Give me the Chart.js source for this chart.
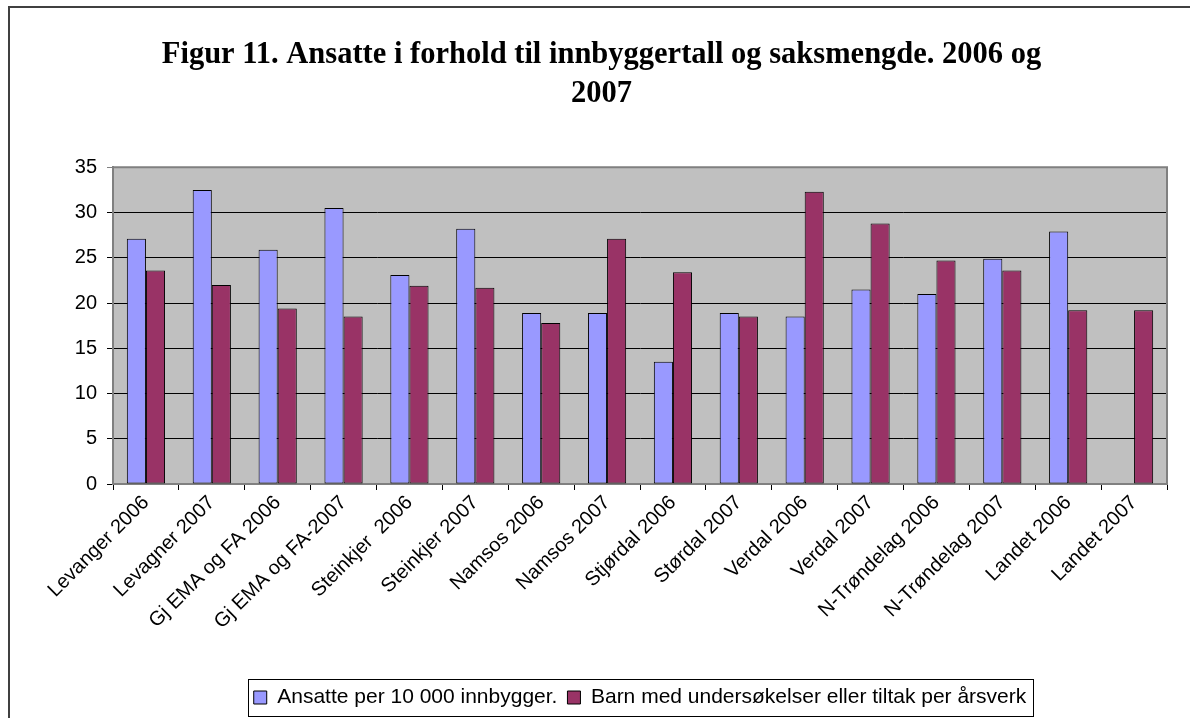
<!DOCTYPE html>
<html>
<head>
<meta charset="utf-8">
<script src="https://cdn.jsdelivr.net/npm/chart.js@4.4.0/dist/chart.umd.min.js"></script>
<style>
  html, body { margin: 0; padding: 0; background: #fff; }
  #wrap { width: 1190px; height: 718px; position: relative; }
</style>
</head>
<body>
<div id="wrap"><canvas id="chart" width="1190" height="718"></canvas></div>
<script>
// chart data
const categories = [
    "Levanger 2006", "Levagner 2007", "Gj EMA og FA 2006", "Gj EMA og FA-2007",
    "Steinkjer  2006", "Steinkjer 2007", "Namsos 2006", "Namsos 2007",
    "Stjørdal 2006", "Størdal 2007", "Verdal 2006", "Verdal 2007",
    "N-Trøndelag 2006", "N-Trøndelag 2007", "Landet 2006", "Landet 2007"
];
const ansatte = [27.1, 32.5, 25.9, 30.5, 23.1, 28.2, 18.9, 18.9, 13.5, 18.9, 18.5, 21.5, 21.0, 24.9, 27.9, null];
const barn    = [23.6, 22.0, 19.4, 18.5, 21.9, 21.7, 17.8, 27.1, 23.4, 18.5, 32.3, 28.8, 24.7, 23.6, 19.2, 19.2];
const seriesNames = ["Ansatte per 10 000 innbygger.", "Barn med undersøkelser eller tiltak per årsverk"];
const titleLines = ["Figur 11. Ansatte i forhold til innbyggertall og saksmengde. 2006 og", "2007"];
const yTicks = [0, 5, 10, 15, 20, 25, 30, 35];

const SANS = "'Liberation Sans', Arial, sans-serif";
const SERIF = "'Liberation Serif', 'Times New Roman', serif";

// plot background, frame, outer border and legend box
const decor = {
    id: "decor",
    beforeDraw(chart) {
        const { ctx, chartArea: a } = chart;
        ctx.save();
        ctx.fillStyle = "#C0C0C0";
        ctx.fillRect(a.left, a.top, a.right - a.left, a.bottom - a.top);
        ctx.restore();
    },
    afterDraw(chart) {
        const { ctx, chartArea: a } = chart;
        ctx.save();
        // plot frame
        ctx.strokeStyle = "#808080";
        ctx.lineWidth = 2;
        ctx.beginPath();
        ctx.moveTo(a.left, a.top);
        ctx.lineTo(a.right, a.top);
        ctx.lineTo(a.right, a.bottom);
        ctx.stroke();
        // outer border
        ctx.strokeStyle = "#404040";
        ctx.lineWidth = 2;
        ctx.beginPath();
        ctx.moveTo(9, 720);
        ctx.lineTo(9, 7);
        ctx.lineTo(1192, 7);
        ctx.stroke();
        // legend box
        const boxes = chart.legend.legendHitBoxes;
        if (boxes && boxes.length) {
            const first = boxes[0], last = boxes[boxes.length - 1];
            const x0 = first.left - 6, x1 = last.left + last.width + 6;
            const y0 = first.top - 8, y1 = first.top + first.height + 8;
            ctx.strokeStyle = "#000";
            ctx.lineWidth = 1;
            ctx.strokeRect(Math.round(x0) + 0.5, Math.round(y0) + 0.5, Math.round(x1 - x0), Math.round(y1 - y0));
        }
        ctx.restore();
    }
};

new Chart(document.getElementById("chart"), {
    type: "bar",
    data: {
        labels: categories,
        datasets: [
            {
                label: seriesNames[0],
                data: ansatte,
                backgroundColor: "#9999FF",
                borderColor: "#000",
                borderWidth: 1
            },
            {
                label: seriesNames[1],
                data: barn,
                backgroundColor: "#993366",
                borderColor: "#000",
                borderWidth: 1
            }
        ]
    },
    options: {
        responsive: false,
        animation: false,
        events: [],
        layout: { padding: { left: 36, right: 23, top: 0, bottom: 0 } },
        datasets: { bar: { barPercentage: 1, categoryPercentage: 0.58, borderSkipped: false } },
        plugins: {
            title: {
                display: true,
                text: titleLines,
                color: "#000",
                font: { family: SERIF, size: 30.5, weight: "bold", lineHeight: 1.3 },
                padding: { top: 35, bottom: 53 }
            },
            legend: {
                position: "bottom",
                fullSize: false,
                labels: {
                    color: "#000",
                    font: { family: SANS, size: 21 },
                    boxWidth: 13,
                    boxHeight: 13,
                    padding: 10
                }
            },
            tooltip: { enabled: false }
        },
        scales: {
            x: {
                offset: true,
                grid: {
                    offset: true,
                    drawOnChartArea: false,
                    drawTicks: true,
                    tickLength: 6,
                    color: "#000"
                },
                border: { color: "#808080", width: 2 },
                ticks: {
                    autoSkip: false,
                    maxRotation: 45,
                    minRotation: 45,
                    color: "#000",
                    padding: 1,
                    font: { family: SANS, size: 20 }
                },
                afterFit(scale) { scale.height = 193; }
            },
            y: {
                min: 0,
                max: 35,
                afterBuildTicks(scale) { scale.ticks = yTicks.map(v => ({ value: v })); },
                grid: {
                    color: ctx => (ctx.tick && ctx.tick.value === 35 ? "#808080" : "#000"),
                    tickLength: 6,
                    lineWidth: 1
                },
                border: { color: "#808080", width: 2 },
                ticks: {
                    color: "#000",
                    padding: 10,
                    font: { family: SANS, size: 20 }
                },
                afterFit(scale) { scale.width = 77; }
            }
        }
    },
    plugins: [decor]
});
</script>
</body>
</html>
